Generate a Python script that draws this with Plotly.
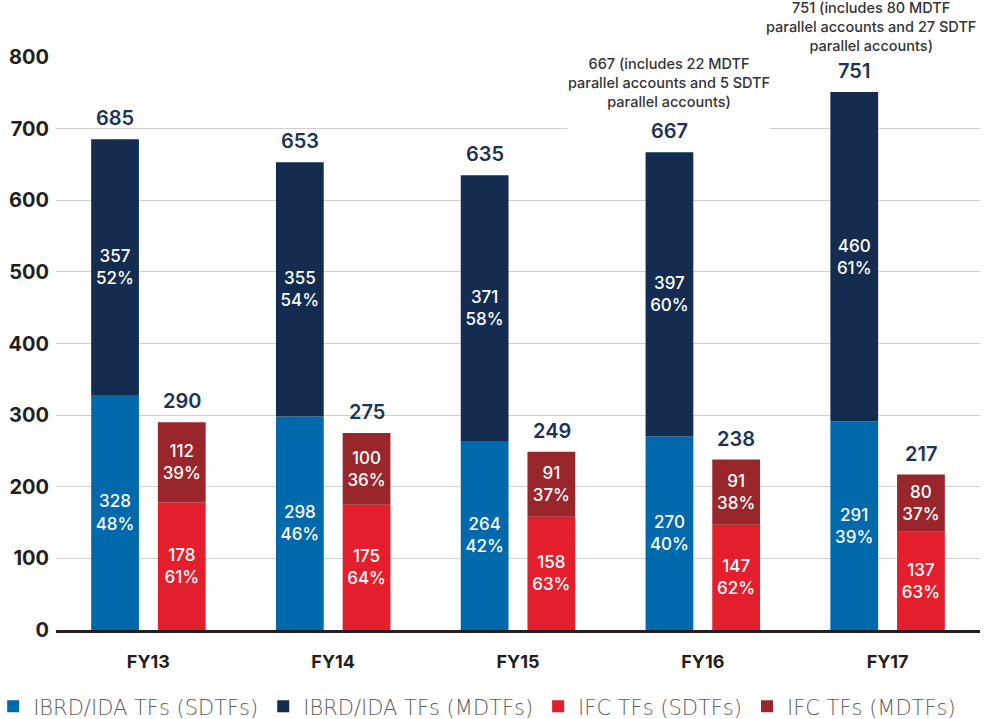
import plotly.graph_objects as go

# Trust fund counts by fiscal year
years = ["FY13", "FY14", "FY15", "FY16", "FY17"]

ibrd_sdtf = [328, 298, 264, 270, 291]
ibrd_mdtf = [357, 355, 371, 397, 460]
ifc_sdtf = [178, 175, 158, 147, 137]
ifc_mdtf = [112, 100, 91, 91, 80]

ibrd_sdtf_pct = ["48%", "46%", "42%", "40%", "39%"]
ibrd_mdtf_pct = ["52%", "54%", "58%", "60%", "61%"]
ifc_sdtf_pct = ["61%", "64%", "63%", "62%", "63%"]
ifc_mdtf_pct = ["39%", "36%", "37%", "38%", "37%"]

ibrd_notes = {
    "FY16": "667 (includes 22 MDTF<br>parallel accounts and 5 SDTF<br>parallel accounts)<br> ",
    "FY17": "751 (includes 80 MDTF<br>parallel accounts and 27 SDTF<br>parallel accounts)",
}
# pixel nudges for the note boxes (x offset, gap above the bar)
note_shift = {"FY16": (-33.5, 22), "FY17": (-17, 37)}

series_names = ["IBRD/IDA TFs (SDTFs)", "IBRD/IDA TFs (MDTFs)",
                "IFC TFs (SDTFs)", "IFC TFs (MDTFs)"]

C_BLUE = "#0069AC"
C_NAVY = "#132C50"
C_RED = "#E41F2D"
C_DRED = "#98262B"
C_LABEL = "#1B3358"
C_AXIS = "#231F20"

ibrd_total = [a + b for a, b in zip(ibrd_sdtf, ibrd_mdtf)]
ifc_total = [a + b for a, b in zip(ifc_sdtf, ifc_mdtf)]

inside_font = dict(family="Inter", size=17, color="white", weight=500)


def seg_text(vals, pcts):
    return [f"{v}<br>{p}" for v, p in zip(vals, pcts)]


fig = go.Figure()

fig.add_trace(go.Bar(
    x=years, y=ibrd_sdtf, name=series_names[0], offsetgroup="ibrd",
    marker=dict(color=C_BLUE, line=dict(width=0)),
    text=seg_text(ibrd_sdtf, ibrd_sdtf_pct), textposition="inside",
    insidetextanchor="middle", textfont=inside_font, hoverinfo="skip",
))
fig.add_trace(go.Bar(
    x=years, y=ibrd_mdtf, base=ibrd_sdtf, name=series_names[1], offsetgroup="ibrd",
    marker=dict(color=C_NAVY, line=dict(width=0)),
    text=seg_text(ibrd_mdtf, ibrd_mdtf_pct), textposition="inside",
    insidetextanchor="middle", textfont=inside_font, hoverinfo="skip",
))
fig.add_trace(go.Bar(
    x=years, y=ifc_sdtf, name=series_names[2], offsetgroup="ifc",
    marker=dict(color=C_RED, line=dict(width=0)),
    text=seg_text(ifc_sdtf, ifc_sdtf_pct), textposition="inside",
    insidetextanchor="middle", textfont=inside_font, hoverinfo="skip",
))
fig.add_trace(go.Bar(
    x=years, y=ifc_mdtf, base=ifc_sdtf, name=series_names[3], offsetgroup="ifc",
    marker=dict(color=C_DRED, line=dict(width=0)),
    text=seg_text(ifc_mdtf, ifc_mdtf_pct), textposition="inside",
    insidetextanchor="middle", textfont=inside_font, hoverinfo="skip",
))

annotations = []
# note boxes first so the totals sit on top of them
for yr, t_ibrd in zip(years, ibrd_total):
    if yr in ibrd_notes:
        dx, dy = note_shift[yr]
        annotations.append(dict(
            x=yr, y=t_ibrd, xref="x", yref="y", text=ibrd_notes[yr],
            showarrow=False, xshift=dx, yanchor="bottom", yshift=dy,
            align="center",
            font=dict(family="Inter", size=14.5, color="#333333", weight=500),
            bgcolor="white", borderpad=0,
        ))

total_font = dict(family="Inter", size=20, color=C_LABEL, weight=600)
for yr, t_ibrd, t_ifc in zip(years, ibrd_total, ifc_total):
    annotations.append(dict(
        x=yr, y=t_ibrd, xref="x", yref="y", text=str(t_ibrd), showarrow=False,
        xshift=-33.5, yanchor="bottom", yshift=7, font=total_font,
    ))
    annotations.append(dict(
        x=yr, y=t_ifc, xref="x", yref="y", text=str(t_ifc), showarrow=False,
        xshift=33.5, yanchor="bottom", yshift=7, font=total_font,
    ))

fig.update_layout(
    width=1004, height=719,
    margin=dict(l=56, r=24, t=57, b=89, autoexpand=False),
    paper_bgcolor="white", plot_bgcolor="white",
    barmode="group", bargap=0.278, bargroupgap=0.284,
    font=dict(family="Inter", color=C_AXIS),
    annotations=annotations,
    showlegend=True,
    legend=dict(
        orientation="h", x=-0.068, xanchor="left", y=-0.098, yanchor="top",
        font=dict(family="DejaVu Sans", size=21, color="#606060", weight=200),
        itemwidth=30, traceorder="normal", itemclick=False,
    ),
    xaxis=dict(
        type="category", showgrid=False, showline=True, linecolor=C_AXIS,
        linewidth=3, ticks="", ticklabelstandoff=13,
        tickfont=dict(family="Inter", size=18, color=C_AXIS, weight=700),
    ),
    yaxis=dict(
        range=[0, 800], dtick=100, showgrid=True, gridcolor="#CFCFCF",
        gridwidth=1, zeroline=False, showline=False, ticks="",
        ticklabelstandoff=6,
        tickfont=dict(family="Inter", size=20, color=C_AXIS, weight=700),
    ),
)

fig.write_html("out.html")
